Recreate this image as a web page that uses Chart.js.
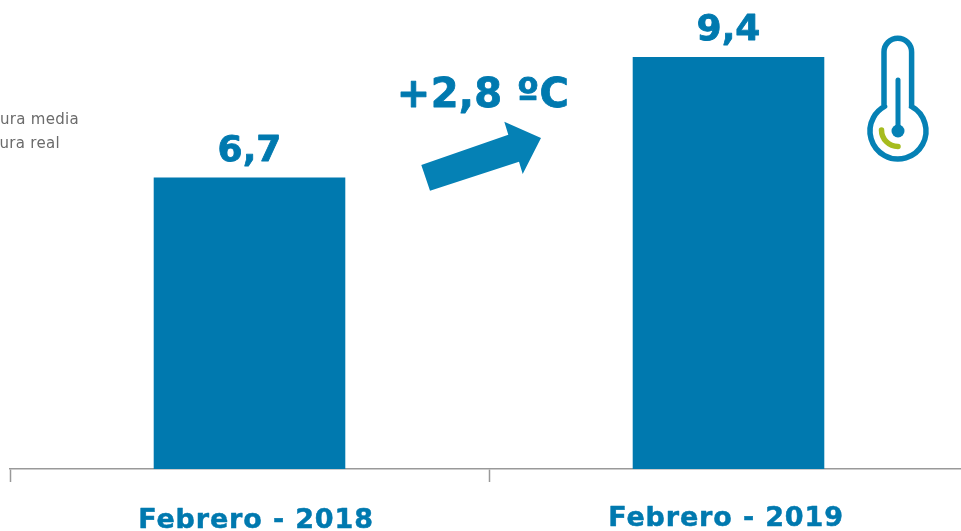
<!DOCTYPE html>
<html>
<head>
<meta charset="utf-8">
<style>
html,body{margin:0;padding:0;background:#fff;overflow:hidden}
#wrap{width:961px;height:531px;overflow:hidden;position:relative}
canvas{display:block}
</style>
<script src="https://cdn.jsdelivr.net/npm/chart.js@4"></script>
</head>
<body>
<div id="wrap"><canvas id="c" width="980" height="531" style="width:980px;height:531px"></canvas></div>
<script>
const categories = ["Febrero - 2018", "Febrero - 2019"];
const temperatures = [6.65, 9.4];
const valueLabels = ["6,7", "9,4"];
const differenceLabel = "+2,8 ºC";
const legendLabels = ["Temperatura media", "Temperatura real"];
const categoryLabelShift = [[6.5, 527.5], [-2.5, 526]];

const BLUE = "#0079AF";
const FONT = "'DejaVu Sans', Verdana, sans-serif";

function heavyText(ctx, text, x, y, weight) {
  ctx.lineWidth = weight;
  ctx.lineJoin = "round";
  ctx.strokeStyle = ctx.fillStyle;
  ctx.strokeText(text, x, y);
  ctx.fillText(text, x, y);
}

const decorations = {
  id: "decorations",
  afterDatasetsDraw(chart) {
    const ctx = chart.ctx;
    const bars = chart.getDatasetMeta(0).data;
    const xScale = chart.scales.x;
    ctx.save();
    ctx.fillStyle = BLUE;
    ctx.textAlign = "center";
    ctx.textBaseline = "alphabetic";

    // value labels above the bars
    ctx.font = "bold 36px " + FONT;
    bars.forEach((b, i) => heavyText(ctx, valueLabels[i], b.x, b.y - 17, 0.8));

    // difference text
    ctx.letterSpacing = "0.3px";
    ctx.font = "bold 40px " + FONT;
    heavyText(ctx, differenceLabel, 483, 107, 0.8);

    // category labels, placed from the x scale
    ctx.letterSpacing = "0.85px";
    ctx.font = "bold 27px " + FONT;
    categories.forEach((c, i) => {
      const [dx, baseline] = categoryLabelShift[i];
      heavyText(ctx, c, xScale.getPixelForValue(i) + dx, baseline, 0.5);
    });

    // cropped legend text
    ctx.letterSpacing = "0.3px";
    ctx.fillStyle = "#6b6b6b";
    ctx.textAlign = "right";
    ctx.font = "15px " + FONT;
    ctx.fillText(legendLabels[0], 79, 124);
    ctx.fillText(legendLabels[1], 60, 148);
    ctx.letterSpacing = "0px";

    // arrow
    ctx.fillStyle = "#0581B5";
    ctx.beginPath();
    ctx.moveTo(421.3, 165);
    ctx.lineTo(508.3, 134.7);
    ctx.lineTo(504.3, 121.7);
    ctx.lineTo(541, 138);
    ctx.lineTo(522.7, 174);
    ctx.lineTo(519, 161.7);
    ctx.lineTo(430, 190.7);
    ctx.closePath();
    ctx.fill();

    // thermometer
    ctx.strokeStyle = "#0581B5";
    ctx.lineWidth = 5.5;
    ctx.lineCap = "round";
    ctx.lineJoin = "round";
    ctx.beginPath();
    ctx.moveTo(884, 106);
    ctx.lineTo(884, 52);
    ctx.arc(897.8, 52, 13.8, Math.PI, 0);
    ctx.lineTo(911.6, 106);
    ctx.arc(898, 131, 28, -Math.PI / 2 + 0.5, -Math.PI / 2 - 0.5 + 2 * Math.PI);
    ctx.closePath();
    ctx.stroke();
    ctx.lineWidth = 5;
    ctx.beginPath();
    ctx.moveTo(898, 80);
    ctx.lineTo(898, 131);
    ctx.stroke();
    ctx.fillStyle = "#0581B5";
    ctx.beginPath();
    ctx.arc(898, 131, 6.5, 0, 2 * Math.PI);
    ctx.fill();
    ctx.strokeStyle = "#A6BC1E";
    ctx.lineWidth = 5.5;
    ctx.beginPath();
    ctx.arc(898, 130, 16.5, Math.PI / 2, Math.PI);
    ctx.stroke();
    ctx.restore();
  }
};

new Chart(document.getElementById("c"), {
  type: "bar",
  data: {
    labels: categories,
    datasets: [{
      data: temperatures,
      backgroundColor: BLUE,
      borderWidth: 0,
      categoryPercentage: 0.4,
      barPercentage: 1
    }]
  },
  options: {
    responsive: false,
    animation: false,
    devicePixelRatio: 1,
    layout: { padding: { left: 10, right: 12, top: 0, bottom: 0 } },
    plugins: { legend: { display: false }, tooltip: { enabled: false }, title: { display: false } },
    scales: {
      y: { display: false, min: 0, max: 10.7 },
      x: {
        offset: true,
        afterFit(scale) { scale.height = 62; },
        border: { display: true, color: "#999999", width: 1.5 },
        grid: { display: true, offset: true, drawOnChartArea: false, drawTicks: true, tickLength: 13, color: "#999999", tickColor: "#999999", tickWidth: 1.5 },
        ticks: { display: false }
      }
    }
  },
  plugins: [decorations]
});
</script>
</body>
</html>
